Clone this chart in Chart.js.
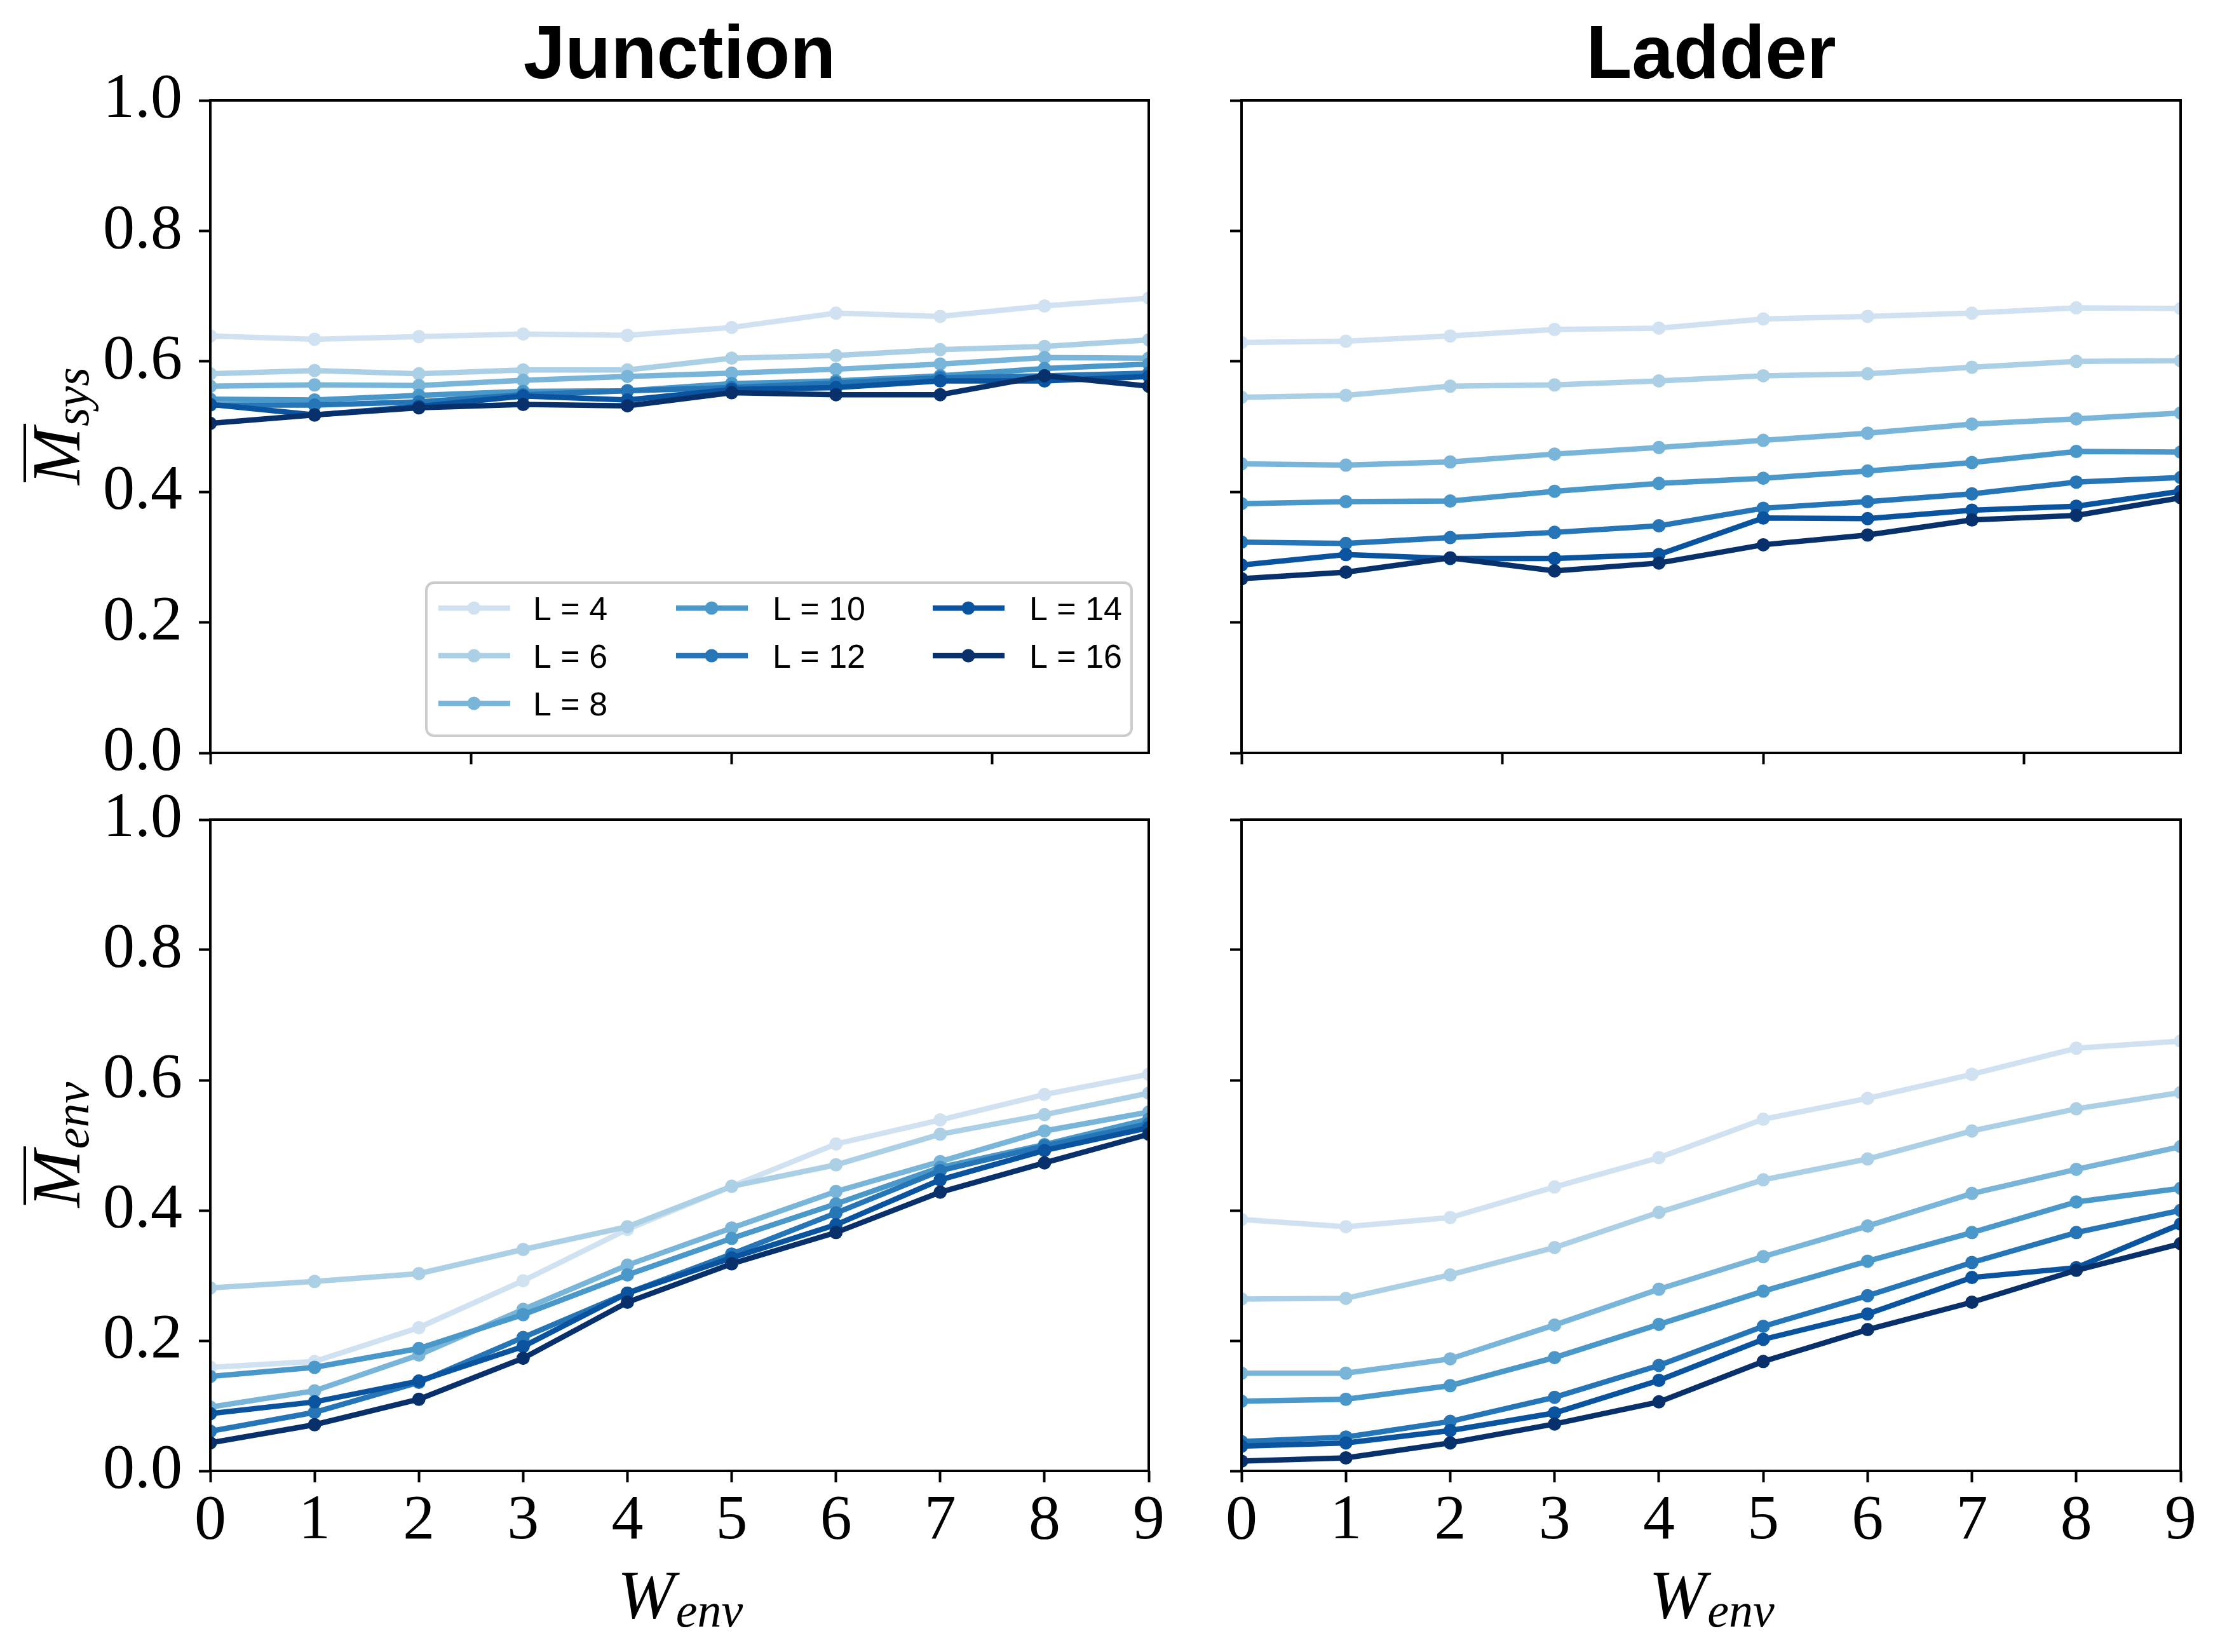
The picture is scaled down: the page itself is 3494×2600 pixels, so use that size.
<!DOCTYPE html>
<html>
<head>
<meta charset="utf-8">
<script src="https://cdn.jsdelivr.net/npm/chart.js@4.4.0/dist/chart.umd.min.js"></script>
<style>
	body { margin: 0; background: #fff; }
	#page { position: relative; width: 3494px; height: 2600px; background: #fff; overflow: hidden; }
	canvas { position: absolute; }
</style>
</head>
<body>
<div id="page">
	<canvas id="tl" width="1880" height="1300" style="left:0px;top:0px;width:1880px;height:1300px"></canvas>
	<canvas id="tr" width="1614" height="1300" style="left:1880px;top:0px;width:1614px;height:1300px"></canvas>
	<canvas id="bl" width="1880" height="1400" style="left:0px;top:1200px;width:1880px;height:1400px"></canvas>
	<canvas id="br" width="1614" height="1400" style="left:1880px;top:1200px;width:1614px;height:1400px"></canvas>
</div>
<script>
const wEnv = [0, 1, 2, 3, 4, 5, 6, 7, 8, 9];
const sizes = [4, 6, 8, 10, 12, 14, 16];
const colors = ['#d0e1f2', '#abd0e6', '#79b5d9', '#4a98c9', '#2575b7', '#0a539e', '#08306b'];
const yTicks = [0, 0.2, 0.4, 0.6, 0.8, 1.0];

// one row per L
const junctionSys = [
	[0.639, 0.634, 0.638, 0.642, 0.640, 0.652, 0.674, 0.669, 0.685, 0.697],
	[0.581, 0.586, 0.581, 0.587, 0.587, 0.605, 0.609, 0.618, 0.623, 0.633],
	[0.562, 0.564, 0.563, 0.571, 0.577, 0.582, 0.588, 0.596, 0.606, 0.605],
	[0.542, 0.541, 0.548, 0.554, 0.555, 0.566, 0.570, 0.578, 0.589, 0.596],
	[0.533, 0.533, 0.538, 0.549, 0.555, 0.560, 0.567, 0.575, 0.578, 0.582],
	[0.534, 0.518, 0.531, 0.547, 0.541, 0.557, 0.560, 0.570, 0.570, 0.577],
	[0.505, 0.518, 0.529, 0.534, 0.532, 0.552, 0.549, 0.549, 0.578, 0.562]
];
const ladderSys = [
	[0.629, 0.631, 0.639, 0.649, 0.651, 0.665, 0.669, 0.674, 0.682, 0.681],
	[0.545, 0.548, 0.562, 0.564, 0.570, 0.578, 0.581, 0.591, 0.600, 0.601],
	[0.443, 0.441, 0.446, 0.458, 0.468, 0.479, 0.490, 0.504, 0.512, 0.521],
	[0.382, 0.385, 0.386, 0.401, 0.413, 0.421, 0.432, 0.445, 0.462, 0.461],
	[0.323, 0.321, 0.330, 0.338, 0.348, 0.375, 0.385, 0.397, 0.415, 0.422],
	[0.288, 0.304, 0.298, 0.298, 0.304, 0.360, 0.359, 0.372, 0.378, 0.401],
	[0.267, 0.277, 0.299, 0.279, 0.291, 0.319, 0.334, 0.357, 0.364, 0.391]
];
const junctionEnv = [
	[0.159, 0.168, 0.220, 0.292, 0.371, 0.437, 0.502, 0.539, 0.578, 0.609],
	[0.281, 0.291, 0.303, 0.340, 0.375, 0.437, 0.470, 0.517, 0.547, 0.580],
	[0.098, 0.123, 0.178, 0.248, 0.316, 0.373, 0.429, 0.475, 0.522, 0.551],
	[0.145, 0.159, 0.188, 0.240, 0.301, 0.357, 0.410, 0.466, 0.501, 0.540],
	[0.061, 0.090, 0.136, 0.205, 0.273, 0.333, 0.396, 0.461, 0.499, 0.533],
	[0.088, 0.106, 0.138, 0.191, 0.273, 0.327, 0.378, 0.447, 0.492, 0.527],
	[0.043, 0.071, 0.110, 0.173, 0.259, 0.318, 0.366, 0.428, 0.473, 0.517]
];
const ladderEnv = [
	[0.386, 0.375, 0.389, 0.436, 0.481, 0.540, 0.572, 0.609, 0.649, 0.660],
	[0.264, 0.265, 0.301, 0.343, 0.397, 0.447, 0.479, 0.522, 0.556, 0.581],
	[0.150, 0.150, 0.172, 0.224, 0.279, 0.329, 0.376, 0.426, 0.463, 0.498],
	[0.107, 0.110, 0.131, 0.174, 0.225, 0.276, 0.322, 0.366, 0.413, 0.434],
	[0.045, 0.052, 0.076, 0.113, 0.162, 0.222, 0.269, 0.320, 0.366, 0.400],
	[0.038, 0.043, 0.062, 0.089, 0.139, 0.202, 0.241, 0.297, 0.312, 0.379],
	[0.015, 0.020, 0.043, 0.072, 0.106, 0.168, 0.217, 0.259, 0.308, 0.349]
];

const SERIF = '"Liberation Serif", "DejaVu Serif", serif';
const SANS = '"Liberation Sans", Arial, sans-serif';

// italic symbol with optional overline and a subscript, centred on the origin
function drawMath(ctx, base, sub, bar) {
	ctx.textAlign = 'left';
	ctx.textBaseline = 'alphabetic';
	ctx.font = 'italic 108px ' + SERIF;
	const wb = ctx.measureText(base).width;
	ctx.font = 'italic 76px ' + SERIF;
	const ws = ctx.measureText(sub).width;
	const x0 = -(wb + ws) / 2;
	ctx.font = 'italic 108px ' + SERIF;
	ctx.fillText(base, x0, 0);
	if (bar) ctx.fillRect(x0 + 4, -88, wb + 2, 4);
	ctx.font = 'italic 76px ' + SERIF;
	ctx.fillText(sub, x0 + wb + 2, 14);
}

function roundedBox(ctx, x, y, w, h, r) {
	ctx.beginPath();
	ctx.moveTo(x + r, y);
	ctx.arcTo(x + w, y, x + w, y + h, r);
	ctx.arcTo(x + w, y + h, x, y + h, r);
	ctx.arcTo(x, y + h, x, y, r);
	ctx.arcTo(x, y, x + w, y, r);
	ctx.closePath();
}

const decorPlugin = {
	id: 'decor',
	afterDraw(chart, args, o) {
		const { ctx, chartArea: a } = chart;
		ctx.save();
		ctx.strokeStyle = '#000';
		ctx.lineWidth = 4;
		ctx.strokeRect(a.left, a.top, a.right - a.left, a.bottom - a.top);
		ctx.fillStyle = '#000';

		if (o.title) {
			ctx.font = 'bold 118px ' + SANS;
			ctx.textAlign = 'center';
			ctx.textBaseline = 'alphabetic';
			ctx.fillText(o.title, (a.left + a.right) / 2, o.titleY);
		}
		if (o.ySub) {
			ctx.save();
			ctx.translate(125, (a.top + a.bottom) / 2);
			ctx.rotate(-Math.PI / 2);
			drawMath(ctx, 'M', o.ySub, true);
			ctx.restore();
		}
		if (o.xSub) {
			ctx.save();
			ctx.translate((a.left + a.right) / 2, o.xLabelY);
			drawMath(ctx, 'W', o.xSub, false);
			ctx.restore();
		}
		if (o.legend) {
			ctx.fillStyle = 'rgba(255,255,255,0.8)';
			ctx.strokeStyle = '#cccccc';
			ctx.lineWidth = 4;
			roundedBox(ctx, 671, 917, 1110, 241, 12);
			ctx.fill();
			ctx.stroke();
			const lineX = [690, 1064, 1468];
			const textX = [839, 1216, 1620];
			const rowY = [957, 1032, 1107];
			ctx.font = '52px ' + SANS;
			ctx.textAlign = 'left';
			ctx.textBaseline = 'alphabetic';
			sizes.forEach((L, i) => {
				const col = i < 3 ? 0 : (i < 5 ? 1 : 2);
				const row = i < 3 ? i : (i < 5 ? i - 3 : i - 5);
				const x = lineX[col];
				const y = rowY[row];
				ctx.strokeStyle = colors[i];
				ctx.lineWidth = 8.5;
				ctx.beginPath();
				ctx.moveTo(x, y);
				ctx.lineTo(x + 113, y);
				ctx.stroke();
				ctx.fillStyle = colors[i];
				ctx.beginPath();
				ctx.arc(x + 56, y, 10.5, 0, Math.PI * 2);
				ctx.fill();
				ctx.fillStyle = '#000';
				ctx.fillText('L = ' + L, textX[col], y + 19);
			});
		}
		ctx.restore();
	}
};

function makeChart(id, rows, cfg) {
	const datasets = rows.map((row, i) => ({
		label: 'L = ' + sizes[i],
		data: row.map((v, j) => ({ x: wEnv[j], y: v })),
		borderColor: colors[i],
		backgroundColor: colors[i],
		pointBackgroundColor: colors[i],
		borderWidth: 8.5,
		pointRadius: 10.5,
		pointBorderWidth: 0,
		pointHoverRadius: 10.5,
		tension: 0,
		clip: 0,
		order: sizes.length - i
	}));
	return new Chart(document.getElementById(id), {
		type: 'line',
		data: { datasets },
		plugins: [decorPlugin],
		options: {
			responsive: false,
			maintainAspectRatio: false,
			devicePixelRatio: 1,
			animation: false,
			layout: { padding: cfg.padding },
			plugins: {
				legend: { display: false },
				tooltip: { enabled: false },
				decor: cfg.decor
			},
			scales: {
				x: {
					type: 'linear',
					min: 0,
					max: 9,
					ticks: {
						stepSize: cfg.xStep,
						includeBounds: cfg.xLabels,
						autoSkip: false,
						maxRotation: 0,
						padding: 2,
						color: '#000',
						font: { family: 'Liberation Serif', size: 100 },
						callback: v => cfg.xLabels ? String(v) : ''
					},
					grid: { drawOnChartArea: false, tickLength: 18, tickWidth: 4, tickColor: '#000' },
					border: { display: false },
					afterFit: s => { s.height = cfg.xHeight; }
				},
				y: {
					type: 'linear',
					min: 0,
					max: 1,
					afterBuildTicks: s => { s.ticks = yTicks.map(v => ({ value: v })); },
					ticks: {
						padding: 26,
						color: '#000',
						font: { family: 'Liberation Serif', size: 100 },
						callback: v => cfg.yLabels ? v.toFixed(1) : ''
					},
					grid: { drawOnChartArea: false, tickLength: 18, tickWidth: 4, tickColor: '#000' },
					border: { display: false },
					afterFit: s => { s.width = cfg.yWidth; }
				}
			}
		}
	});
}

function init() {
	makeChart('tl', junctionSys, {
		padding: { left: 0, top: 158, right: 72, bottom: 0 },
		yWidth: 331, xHeight: 115, xStep: 2.5, xLabels: false, yLabels: true,
		decor: { title: 'Junction', titleY: 123, ySub: 'sys', legend: true }
	});
	makeChart('tr', ladderSys, {
		padding: { left: 0, top: 158, right: 62, bottom: 0 },
		yWidth: 74, xHeight: 115, xStep: 2.5, xLabels: false, yLabels: false,
		decor: { title: 'Ladder', titleY: 123 }
	});
	makeChart('bl', junctionEnv, {
		padding: { left: 0, top: 90, right: 72, bottom: 0 },
		yWidth: 331, xHeight: 285, xStep: 1, xLabels: true, yLabels: true,
		decor: { ySub: 'env', xSub: 'env', xLabelY: 1346 }
	});
	makeChart('br', ladderEnv, {
		padding: { left: 0, top: 90, right: 62, bottom: 0 },
		yWidth: 74, xHeight: 285, xStep: 1, xLabels: true, yLabels: false,
		decor: { xSub: 'env', xLabelY: 1346 }
	});
}

document.addEventListener('DOMContentLoaded', init);
</script>
</body>
</html>
